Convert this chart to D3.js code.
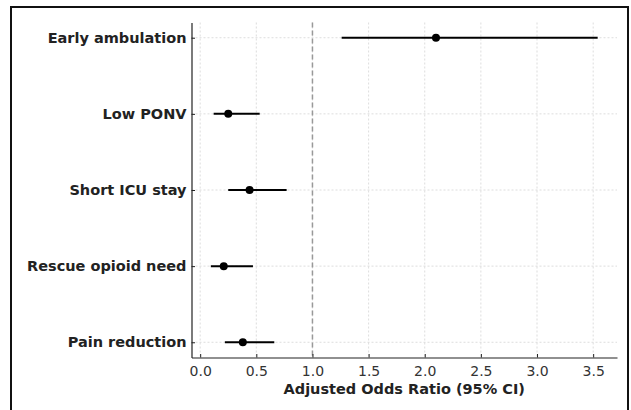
<!DOCTYPE html>
<html>
<head>
<meta charset="utf-8">
<script src="https://cdn.jsdelivr.net/npm/d3@7"></script>
<style>
  body { margin: 0; background: #fff; }
  svg { display: block; font-family: "DejaVu Sans", sans-serif; }
</style>
</head>
<body>
<svg></svg>
<script>
//Setting
const width = 631;
const height = 410;

//Data (top to bottom)
const outcomes = ["Early ambulation", "Low PONV", "Short ICU stay", "Rescue opioid need", "Pain reduction"];
const oddsRatio = [2.10, 0.25, 0.44, 0.21, 0.38];
const ciLow = [1.26, 0.12, 0.25, 0.095, 0.22];
const ciHigh = [3.54, 0.53, 0.77, 0.47, 0.66];
const xTicks = [0, 0.5, 1, 1.5, 2, 2.5, 3, 3.5];

const rows = outcomes.map((d, i) => ({name: d, or: oddsRatio[i], lo: ciLow[i], hi: ciHigh[i]}));

const margin = {left: 191.5, right: 617, top: 22.5, bottom: 357.5};

const svg = d3.select("svg")
            .attr("width", width)
            .attr("height", height);

// outer frame
svg.append("rect")
   .attr("x", 11)
   .attr("y", 7)
   .attr("width", 617)
   .attr("height", 420)
   .attr("fill", "none")
   .attr("stroke", "#111")
   .attr("stroke-width", 2);

// matplotlib style 5% margins
const xmin = d3.min(ciLow), xmax = d3.max(ciHigh);
const pad = (xmax - xmin) * 0.05;
const x = d3.scaleLinear()
            .domain([xmin - pad, xmax + pad])
            .range([margin.left, margin.right]);

const y = d3.scalePoint()
            .domain(outcomes)
            .range([margin.top, margin.bottom])
            .padding(0.2);

// grid
const grid = svg.append("g")
    .attr("stroke", "#d4d4d4")
    .attr("stroke-width", 0.8)
    .attr("stroke-dasharray", "2,2");

grid.selectAll(".vg")
    .data(xTicks)
    .enter()
    .append("line")
    .attr("x1", d => x(d)).attr("x2", d => x(d))
    .attr("y1", margin.top).attr("y2", margin.bottom);

grid.selectAll(".hg")
    .data(outcomes)
    .enter()
    .append("line")
    .attr("x1", margin.left).attr("x2", margin.right)
    .attr("y1", d => y(d)).attr("y2", d => y(d));

// reference line at OR = 1
svg.append("line")
   .attr("x1", x(1)).attr("x2", x(1))
   .attr("y1", margin.top).attr("y2", margin.bottom)
   .attr("stroke", "#999")
   .attr("stroke-width", 1.5)
   .attr("stroke-dasharray", "5,3");

// axes
const xAxis = svg.append("g")
    .attr("transform", `translate(0, ${margin.bottom})`)
    .call(d3.axisBottom(x).tickValues(xTicks).tickSize(-3.5).tickPadding(9).tickFormat(d3.format(".1f")).tickSizeOuter(0));

const yAxis = svg.append("g")
    .attr("transform", `translate(${margin.left}, 0)`)
    .call(d3.axisLeft(y).tickSize(-3.5).tickPadding(5).tickSizeOuter(0));

xAxis.select(".domain").attr("stroke", "#222").attr("stroke-width", 1.2);
yAxis.select(".domain").attr("stroke", "#222").attr("stroke-width", 1.2);
svg.selectAll(".tick line").attr("stroke", "#222");

xAxis.selectAll("text")
     .style("font-size", "14px")
     .style("font-family", "DejaVu Sans")
     .attr("fill", "#333");

yAxis.selectAll("text")
     .style("font-size", "14.5px")
     .style("font-family", "DejaVu Sans")
     .style("font-weight", "bold")
     .attr("fill", "#222");

svg.append("text")
   .attr("x", (margin.left + margin.right) / 2)
   .attr("y", 394)
   .attr("text-anchor", "middle")
   .style("font-size", "14.5px")
   .style("font-weight", "bold")
   .attr("fill", "#222")
   .text("Adjusted Odds Ratio (95% CI)");

// CI lines and points
const marks = svg.append("g");

marks.selectAll("line")
     .data(rows)
     .enter()
     .append("line")
     .attr("x1", d => x(d.lo)).attr("x2", d => x(d.hi))
     .attr("y1", d => y(d.name)).attr("y2", d => y(d.name))
     .attr("stroke", "#000")
     .attr("stroke-width", 2);

marks.selectAll("circle")
     .data(rows)
     .enter()
     .append("circle")
     .attr("cx", d => x(d.or))
     .attr("cy", d => y(d.name))
     .attr("r", 4)
     .attr("fill", "#000");
</script>
</body>
</html>
